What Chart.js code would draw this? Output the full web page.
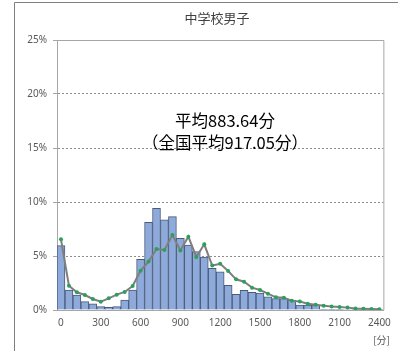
<!DOCTYPE html>
<html lang="ja">
  <head>
    <meta charset="UTF-8" />
    <title>中学校男子</title>
    <script src="https://cdn.jsdelivr.net/npm/chart.js"></script>
    <style>
      html, body { margin: 0; padding: 0; background: #ffffff; }
      .grafico { position: relative; width: 398px; height: 351px; }
    </style>
  </head>
  <body>
    <div class="grafico">
      <canvas id="myCanvas" width="398" height="351"></canvas>
    </div>
  </body>
</html>
<script>
  // 区分（分）: 0, 60, ..., 2400
  const minutos = [];
  for (let m = 0; m <= 2400; m += 60) minutos.push(String(m));

  // 中学校男子の分布（%）
  const escola = [
    5.96, 1.85, 1.39, 0.77, 0.56, 0.31, 0.25, 0.31, 0.93, 1.85,
    4.69, 8.12, 9.41, 8.36, 8.64, 6.64, 6.02, 5.40, 4.90, 3.86,
    3.53, 2.28, 1.45, 1.82, 1.64, 1.57, 1.23, 1.05, 1.05, 0.93,
    0.46, 0.46, 0.46, 0.07, 0.07, 0.06, 0.05, 0.04, 0.03, 0.02, 0.01
  ];

  // 全国の分布（%）
  const nacional = [
    6.54, 2.25, 1.64, 1.39, 1.02, 0.77, 1.08, 1.42, 1.67, 2.22,
    3.64, 4.48, 5.65, 5.56, 6.94, 5.52, 6.79, 4.91, 6.08, 4.12,
    4.28, 3.61, 2.84, 2.62, 2.07, 1.85, 1.51, 1.17, 1.14, 0.86,
    0.78, 0.58, 0.49, 0.40, 0.33, 0.28, 0.22, 0.15, 0.12, 0.09, 0.06
  ];

  const yTicks = [0, 5, 10, 15, 20, 25];

  const titulo = "中学校男子";
  const mediaTexto = "平均883.64分";
  const mediaNacionalTexto = "（全国平均917.05分）";
  const unidade = "[分]";

  const fonteCJK = '"Noto Sans CJK JP", "Noto Sans", sans-serif';
  const fonteTick = { family: '"Noto Sans", sans-serif', size: 10 };

  // desenha moldura, titulo e textos
  const extras = {
    id: "extras",
    afterDraw(chart) {
      const ctx = chart.ctx;
      const a = chart.chartArea;
      ctx.save();
      // moldura externa
      ctx.strokeStyle = "#7f7f7f";
      ctx.lineWidth = 1;
      ctx.beginPath();
      ctx.moveTo(14.5, 351);
      ctx.lineTo(14.5, 2.5);
      ctx.lineTo(398, 2.5);
      ctx.stroke();
      // borda da area do grafico
      ctx.strokeStyle = "#a6a6a6";
      ctx.beginPath();
      ctx.moveTo(a.left, a.top + 0.5);
      ctx.lineTo(a.right + 0.5, a.top + 0.5);
      ctx.lineTo(a.right + 0.5, a.bottom);
      ctx.stroke();

      ctx.fillStyle = "#404040";
      ctx.textAlign = "center";
      ctx.textBaseline = "middle";
      ctx.font = "13px " + fonteCJK;
      ctx.fillText(titulo, 217, 18);

      ctx.fillStyle = "#000000";
      ctx.font = "16.5px " + fonteCJK;
      ctx.fillText(mediaTexto, 225, 121);
      ctx.fillText(mediaNacionalTexto, 225, 143);

      ctx.fillStyle = "#595959";
      ctx.textAlign = "right";
      ctx.font = "10px " + fonteCJK;
      ctx.fillText(unidade, 390, 340);
      ctx.restore();
    },
  };

  const config = {
    type: "bar",
    data: {
      labels: minutos,
      datasets: [
        {
          type: "line",
          label: "全国",
          data: nacional,
          borderColor: "#7f7f7f",
          borderWidth: 2,
          pointRadius: 2,
          pointBackgroundColor: "#2ca05a",
          pointBorderWidth: 0,
          tension: 0,
          order: 0,
        },
        {
          label: "中学校男子",
          data: escola,
          backgroundColor: "#8eaadb",
          borderColor: "#4a5a78",
          borderWidth: 1,
          barPercentage: 1,
          categoryPercentage: 1,
          order: 1,
        },
      ],
    },
    plugins: [extras],
    options: {
      responsive: false,
      animation: false,
      layout: { padding: { top: 40, right: 14, left: 0, bottom: 0 } },
      plugins: {
        legend: { display: false },
        tooltip: { enabled: false },
        title: { display: false },
      },
      scales: {
        x: {
          offset: true,
          grid: { display: false, drawTicks: false, offset: true },
          border: { display: true, color: "#a6a6a6" },
          ticks: {
            autoSkip: false,
            maxRotation: 0,
            padding: 7,
            color: "#595959",
            font: fonteTick,
            callback: function (v, i) {
              return i % 5 === 0 ? minutos[i] : "";
            },
          },
          afterFit(scale) { scale.height = 41; },
        },
        y: {
          min: 0,
          max: 25,
          afterBuildTicks(scale) {
            scale.ticks = yTicks.map((v) => ({ value: v }));
          },
          grid: {
            color: "#8c8c8c",
            tickColor: "#a6a6a6",
            tickLength: 4,
            tickBorderDash: [],
          },
          border: { display: true, color: "#a6a6a6", dash: [2, 2] },
          ticks: {
            padding: 6,
            color: "#595959",
            font: fonteTick,
            callback: (v) => v + "%",
          },
          afterFit(scale) { scale.width = 57; },
        },
      },
    },
  };

  new Chart(document.getElementById("myCanvas"), config);
</script>
